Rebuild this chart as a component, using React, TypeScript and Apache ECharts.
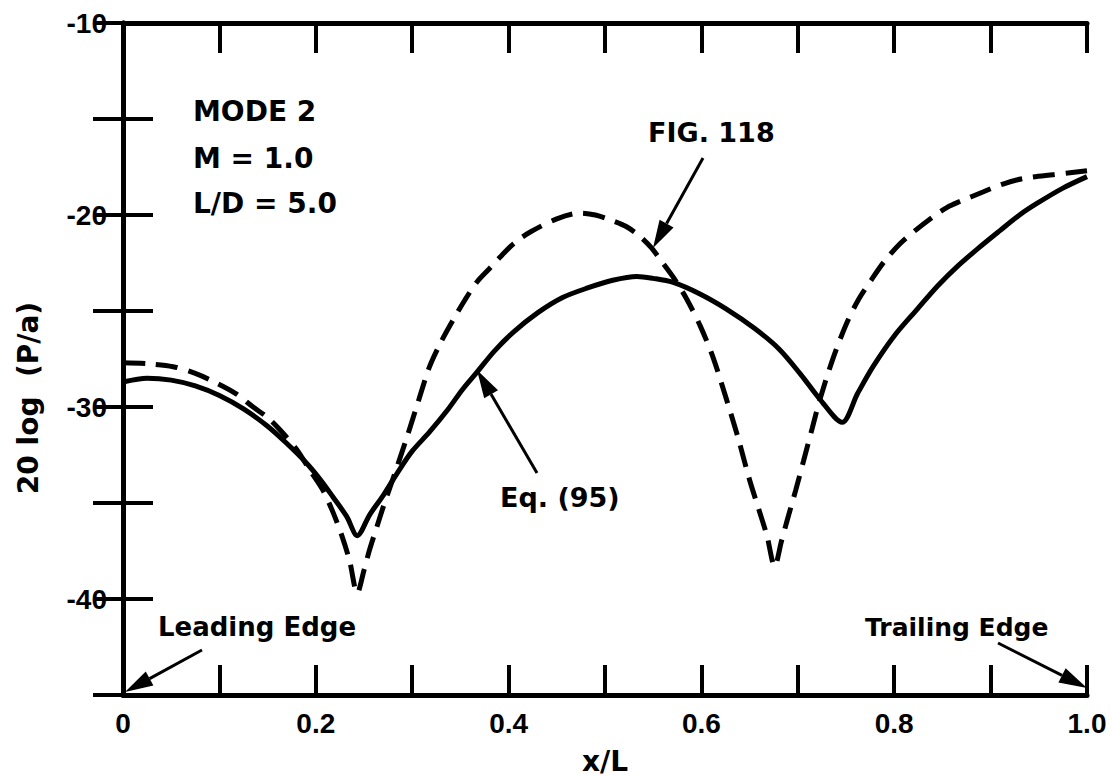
import React, { useEffect, useRef } from "react";
import * as echarts from "echarts";

// Eq. (95) — solid curve
const eqX = [0.0, 0.025, 0.05, 0.075, 0.1, 0.125, 0.15, 0.17, 0.19, 0.205, 0.218, 0.232, 0.243, 0.256, 0.27, 0.285, 0.3, 0.318, 0.336, 0.352, 0.367, 0.385, 0.405, 0.43, 0.456, 0.482, 0.508, 0.533, 0.55, 0.57, 0.598, 0.626, 0.655, 0.681, 0.703, 0.723, 0.746, 0.762, 0.778, 0.8, 0.824, 0.845, 0.865, 0.888, 0.91, 0.93, 0.948, 0.975, 1.0];
const eqY = [-28.7, -28.5, -28.6, -28.9, -29.4, -30.1, -31.0, -31.9, -32.9, -33.8, -34.7, -35.7, -36.7, -35.6, -34.6, -33.4, -32.3, -31.3, -30.2, -29.1, -28.2, -27.1, -26.1, -25.1, -24.3, -23.8, -23.4, -23.2, -23.3, -23.5, -24.1, -24.9, -25.9, -27.0, -28.3, -29.6, -30.8, -29.3, -27.9, -26.3, -24.9, -23.7, -22.7, -21.7, -20.8, -20.0, -19.4, -18.6, -18.0];

// FIG. 118 — dashed curve
const figX = [0.0, 0.026, 0.052, 0.075, 0.097, 0.117, 0.135, 0.15, 0.163, 0.18, 0.194, 0.207, 0.218, 0.227, 0.235, 0.243, 0.25, 0.256, 0.263, 0.27, 0.283, 0.295, 0.307, 0.318, 0.33, 0.342, 0.355, 0.367, 0.38, 0.391, 0.405, 0.422, 0.45, 0.474, 0.49, 0.508, 0.522, 0.536, 0.548, 0.56, 0.573, 0.585, 0.599, 0.612, 0.626, 0.638, 0.65, 0.66, 0.668, 0.676, 0.683, 0.689, 0.698, 0.706, 0.715, 0.723, 0.737, 0.751, 0.763, 0.776, 0.79, 0.806, 0.822, 0.84, 0.855, 0.868, 0.892, 0.912, 0.934, 0.965, 1.0];
const figY = [-27.7, -27.75, -27.9, -28.25, -28.75, -29.3, -30.0, -30.55, -31.2, -32.2, -33.3, -34.3, -35.5, -36.7, -38.0, -39.7, -38.5, -37.4, -36.3, -35.2, -33.3, -31.5, -29.6, -27.9, -26.6, -25.5, -24.4, -23.5, -22.8, -22.2, -21.5, -20.9, -20.2, -19.9, -20.0, -20.3, -20.6, -21.1, -21.7, -22.5, -23.4, -24.4, -25.8, -27.4, -29.6, -31.6, -33.8, -35.4, -36.7, -38.3, -37.0, -35.9, -34.3, -32.8, -31.1, -29.6, -27.4, -25.6, -24.4, -23.4, -22.4, -21.5, -20.8, -20.1, -19.6, -19.3, -18.8, -18.4, -18.1, -17.9, -17.7];

const yLabelValues = [-10, -20, -30, -40];
const xLabelValues = [0, 0.2, 0.4, 0.6, 0.8, 1.0];

const FONT = "'DejaVu Sans', sans-serif";
const TICKFONT = "'Liberation Sans', Arial, sans-serif";

function arrow(x1: number, y1: number, x2: number, y2: number) {
  const dx = x2 - x1;
  const dy = y2 - y1;
  const len = Math.sqrt(dx * dx + dy * dy);
  const ux = dx / len;
  const uy = dy / len;
  const hl = 28;
  const hw = 8;
  const bx = x2 - ux * hl;
  const by = y2 - uy * hl;
  return [
    {
      type: "line",
      shape: { x1, y1, x2: bx, y2: by },
      style: { stroke: "#000", lineWidth: 3 },
    },
    {
      type: "polygon",
      shape: {
        points: [
          [x2, y2],
          [bx - uy * hw, by + ux * hw],
          [bx + uy * hw, by - ux * hw],
        ],
      },
      style: { fill: "#000" },
    },
  ];
}

function txt(text: string, x: number, y: number, size: number, align = "left", rotation = 0) {
  return {
    type: "text",
    x,
    y,
    rotation,
    style: {
      text,
      fill: "#000",
      font: `bold ${size}px ${FONT}`,
      textAlign: align,
      textVerticalAlign: "middle",
    },
  };
}

export default function App() {
  const ref = useRef<HTMLDivElement>(null);
  useEffect(() => {
    if (!ref.current) return;
    const chart = echarts.init(ref.current, null, { renderer: "svg" });
    const eqData = eqX.map((x, i) => [x, eqY[i]]);
    const figData = figX.map((x, i) => [x, figY[i]]);
    const axisLine = { show: true, lineStyle: { color: "#000", width: 5 } };
    const tick = { show: true, inside: true, length: 30, lineStyle: { color: "#000", width: 4 } };
    const xFmt = (v: number) => {
      const hit = xLabelValues.find((t) => Math.abs(t - v) < 1e-6);
      if (hit === undefined) return "";
      return hit === 0 ? "0" : hit.toFixed(1);
    };
    const yFmt = (v: number) => (yLabelValues.some((t) => Math.abs(t - v) < 1e-6) ? String(v) : "");
    chart.setOption({
      animation: false,
      backgroundColor: "#fff",
      grid: { left: 123, right: 25, top: 23, bottom: 81, containLabel: false, outerBoundsMode: "none" },
      xAxis: [
        {
          type: "value",
          min: 0,
          max: 1,
          interval: 0.1,
          position: "bottom",
          axisLine,
          axisTick: tick,
          splitLine: { show: false },
          axisLabel: { formatter: xFmt, color: "#000", fontSize: 28, fontWeight: "bold", fontFamily: TICKFONT, margin: 14 },
          name: "x/L",
          nameLocation: "middle",
          nameGap: 52,
          nameTextStyle: { color: "#000", fontSize: 28, fontWeight: "bold", fontFamily: FONT },
        },
        {
          type: "value",
          min: 0,
          max: 1,
          interval: 0.1,
          position: "top",
          axisLine,
          axisTick: tick,
          splitLine: { show: false },
          axisLabel: { show: false },
        },
      ],
      yAxis: [
        {
          type: "value",
          min: -45,
          max: -10,
          interval: 5,
          position: "left",
          axisLine,
          axisTick: tick,
          splitLine: { show: false },
          axisLabel: { formatter: yFmt, color: "#000", fontSize: 28, fontWeight: "bold", fontFamily: TICKFONT, margin: 16 },
        },
        {
          type: "value",
          min: -45,
          max: -10,
          interval: 5,
          position: "right",
          axisLine,
          axisTick: tick,
          splitLine: { show: false },
          axisLabel: { show: false },
        },
      ],
      series: [
        {
          name: "Eq. (95)",
          type: "line",
          data: eqData,
          showSymbol: false,
          smooth: 0.3,
          lineStyle: { color: "#000", width: 5 },
          z: 3,
        },
        {
          name: "FIG. 118",
          type: "line",
          data: figData,
          showSymbol: false,
          smooth: 0.3,
          lineStyle: { color: "#000", width: 5, type: [22, 11] },
          z: 3,
        },
      ],
      graphic: [
        txt("MODE 2", 193, 111, 28),
        txt("M = 1.0", 193, 158, 28),
        txt("L/D = 5.0", 193, 203, 28),
        txt("FIG. 118", 648, 132, 27),
        txt("Eq. (95)", 500, 497, 27),
        txt("Leading Edge", 158, 627, 26),
        txt("Trailing Edge", 865, 627, 25),
        txt("20 log  (P/a)", 28, 398, 28, "center", Math.PI / 2),
        ...arrow(703, 158, 653, 248),
        ...arrow(537, 473, 477, 370),
        ...arrow(202, 650, 125, 692),
        ...arrow(998, 643, 1087, 688),
      ],
    });
    return () => chart.dispose();
  }, []);
  return (
    <div
      ref={ref}
      style={{ position: "absolute", left: 0, top: 0, width: 1112, height: 776, background: "#fff" }}
    />
  );
}
